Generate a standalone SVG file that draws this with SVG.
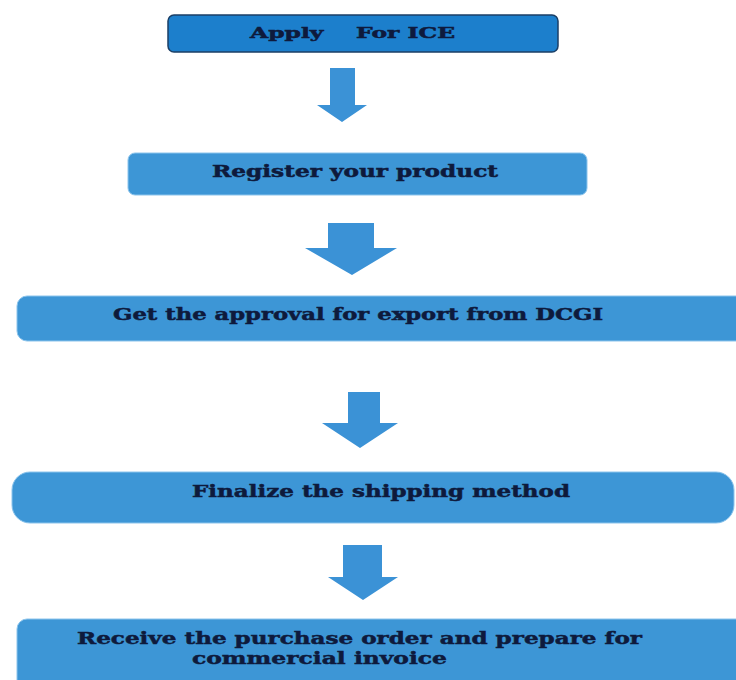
<svg xmlns="http://www.w3.org/2000/svg" width="736" height="680" viewBox="0 0 736 680">
<style>
.box{fill:#3d96d6;stroke:#8cc4ec;stroke-width:1}
.box1{fill:#1c7fcc;stroke:#1b3f66;stroke-width:1.5}
.lbl{font-family:"DejaVu Serif","Liberation Serif",serif;font-weight:bold;fill:#0e1a3c;stroke:#0e1a3c;stroke-width:0.5}
.arr{fill:#3b92d6}
</style>
<rect width="736" height="680" fill="#ffffff"/>
<g id="connectors">
<polygon class="arr" points="330,68 355,68 355,105 367,105 342,122 317,105 330,105"/>
<polygon class="arr" points="328,223 374,223 374,248 397,248 352,275 305,248 328,248"/>
<polygon class="arr" points="348,392 380,392 380,423 398,423 360,448 322,423 348,423"/>
<polygon class="arr" points="343,545 382,545 382,577 398,577 363,600 328,577 343,577"/>
</g>
<g id="n1">
<rect class="box1" x="168" y="15" width="390" height="37" rx="6"/>
<text class="lbl" x="250" y="38" font-size="15" textLength="205" lengthAdjust="spacingAndGlyphs" xml:space="preserve">Apply    For ICE</text>
</g>
<g id="n2">
<rect class="box" x="128" y="153" width="459" height="42" rx="7"/>
<text class="lbl" x="212" y="177" font-size="16" textLength="286" lengthAdjust="spacingAndGlyphs">Register your product</text>
</g>
<g id="n3">
<rect class="box" x="17" y="296" width="730" height="45" rx="10"/>
<text class="lbl" x="113" y="320" font-size="17" textLength="490" lengthAdjust="spacingAndGlyphs">Get the approval for export from DCGI</text>
</g>
<g id="n4">
<rect class="box" x="12" y="472" width="722" height="51" rx="18"/>
<text class="lbl" x="192" y="497" font-size="17" textLength="378" lengthAdjust="spacingAndGlyphs">Finalize the shipping method</text>
</g>
<g id="n5">
<rect class="box" x="17" y="619" width="730" height="75" rx="10"/>
<text class="lbl" x="77" y="644" font-size="17" textLength="565" lengthAdjust="spacingAndGlyphs">Receive the purchase order and prepare for</text>
<text class="lbl" x="192" y="664" font-size="17" textLength="255" lengthAdjust="spacingAndGlyphs">commercial invoice</text>
</g>
</svg>
